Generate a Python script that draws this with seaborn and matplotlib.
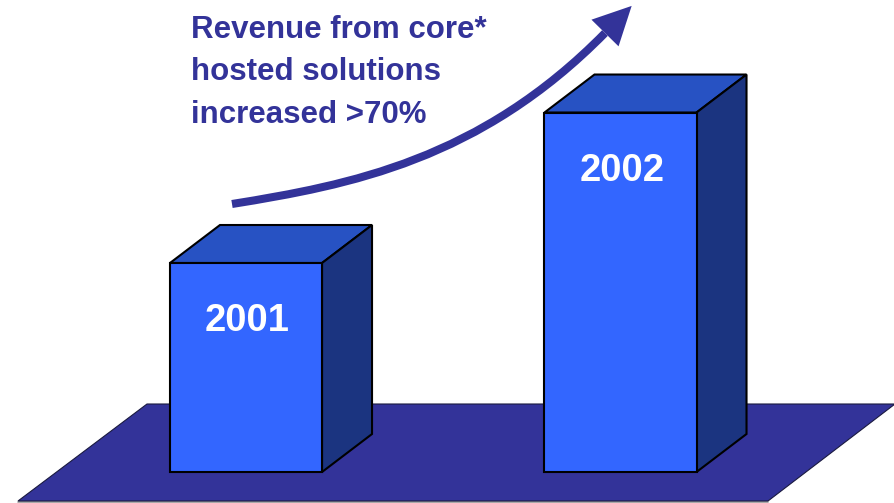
import numpy as np
import pandas as pd
import matplotlib
matplotlib.use("Agg")
import matplotlib.pyplot as plt
import matplotlib.transforms as mtransforms
from matplotlib.patches import Polygon, PathPatch
from matplotlib.path import Path
import seaborn as sns

# Revenue index of core hosted solutions (2001 = 100)
years = ["2001", "2002"]
revenue_index = [100, 172]
headline = ["Revenue from core*", "hosted solutions", "increased >70%"]

FRONT = "#3366FF"
TOP = "#2752C3"
SIDE = "#1B3480"
FLOOR = "#333399"
INK = "#333399"

W, H = 895, 503
sns.set_theme(style="white")
plt.rcParams["font.family"] = ["Liberation Sans", "DejaVu Sans"]

fig = plt.figure(figsize=(W / 100, H / 100), dpi=100)
ax = fig.add_axes([0, 0, 1, 1])

# pixel-space transform (origin top-left) for the decorative elements
pix = mtransforms.Affine2D().scale(1 / W, -1 / H).translate(0, 1) + fig.transFigure

df = pd.DataFrame({"year": years, "revenue": revenue_index})
sns.barplot(data=df, x="year", y="revenue", color=FRONT, saturation=1,
            width=0.406, edgecolor="black", linewidth=1.5, ax=ax, zorder=4)

ax.set_xlim(-0.6569, 1.7330)
ax.set_ylim(-14.83, 225.84)
ax.set_axis_off()

# floor slab under the bars
floor = Polygon([(18, 501), (768, 501), (895, 404), (147, 404)], closed=True,
                facecolor=FLOOR, edgecolor="#1a1a40", linewidth=0.8,
                transform=pix, zorder=1)
ax.add_patch(floor)
ax.plot([18, 768], [502.5, 502.5], color="#9a9a9a", lw=1.2, transform=pix, zorder=0.9)

# extrude each bar: top and right faces
fig.canvas.draw()
to_data = ax.transData.inverted()
DX, DY = 50, 38  # depth offset in pixels
for bar, year in zip(ax.patches, years):
    x0, y0 = bar.get_x(), bar.get_y()
    x1, y1 = x0 + bar.get_width(), y0 + bar.get_height()
    (px0, py0), (px1, py1) = ax.transData.transform([(x0, y0), (x1, y1)])
    top = to_data.transform([(px0, py1), (px0 + DX, py1 + DY),
                             (px1 + DX, py1 + DY), (px1, py1)])
    side = to_data.transform([(px1, py1), (px1 + DX, py1 + DY),
                              (px1 + DX, py0 + DY), (px1, py0)])
    ax.add_patch(Polygon(top, closed=True, facecolor=TOP, edgecolor="black",
                         linewidth=1.5, joinstyle="miter", zorder=3))
    ax.add_patch(Polygon(side, closed=True, facecolor=SIDE, edgecolor="black",
                         linewidth=1.5, joinstyle="miter", zorder=3))
    ax.annotate(year, xy=((x0 + x1) / 2, y1), xytext=(1, -49),
                textcoords="offset points", ha="center", va="baseline",
                color="white", fontsize=27.5, fontweight="bold", zorder=6)

# rising arrow: curved shaft plus a triangular head along the end tangent
verts = [(232, 204), (350, 185), (480, 160), (605, 33)]
shaft = Path(verts, [Path.MOVETO, Path.CURVE4, Path.CURVE4, Path.CURVE4])
ax.add_patch(PathPatch(shaft, facecolor="none", edgecolor=INK, linewidth=5.8,
                       capstyle="butt", transform=pix, zorder=5))
end = np.array(verts[-1], float)
tangent = end - np.array(verts[-2], float)
tangent /= np.hypot(*tangent)
normal = np.array([-tangent[1], tangent[0]])
head_len, head_half = 38, 19
head = [end + tangent * head_len, end + normal * head_half, end - normal * head_half]
ax.add_patch(Polygon(head, closed=True, facecolor=INK, edgecolor="none",
                     transform=pix, zorder=5))

# headline
for i, line in enumerate(headline):
    ax.text(191, 38 + i * 42.5, line, transform=pix, ha="left", va="baseline",
            color=INK, fontsize=22.5, fontweight="bold", zorder=6)

fig.savefig("out.png", dpi=100)
